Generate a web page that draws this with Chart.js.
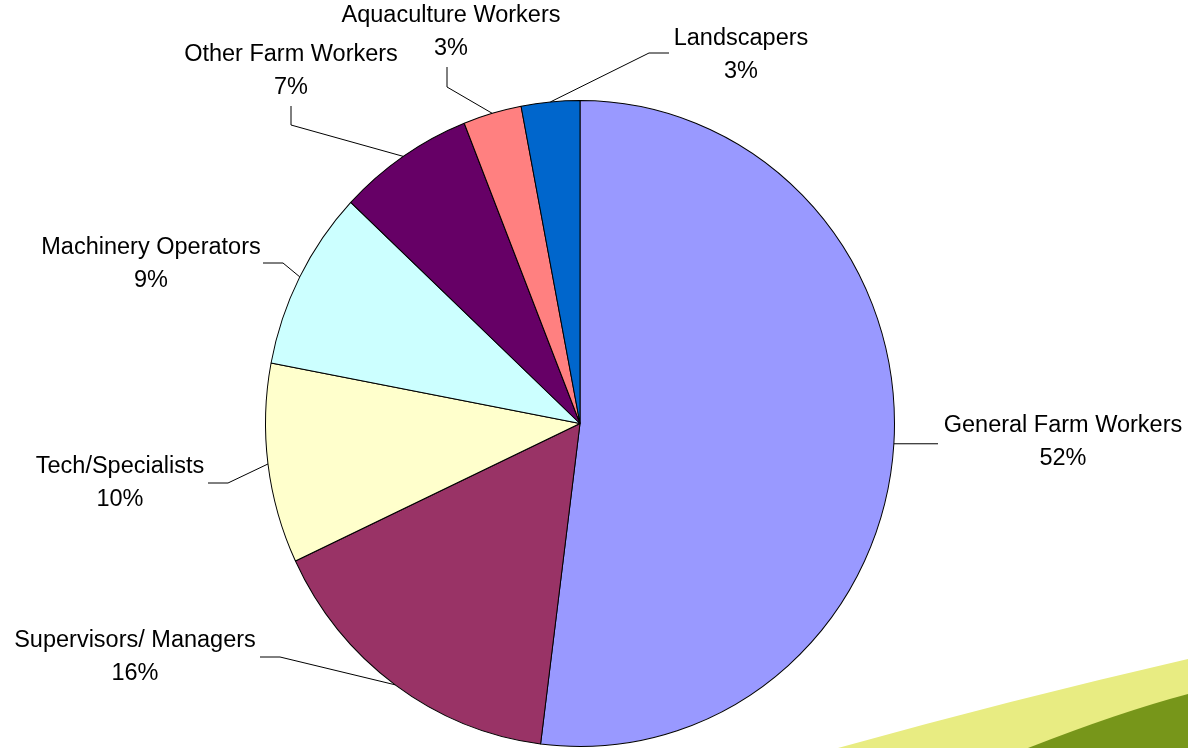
<!DOCTYPE html>
<html>
<head>
<meta charset="utf-8">
<script src="https://cdn.jsdelivr.net/npm/chart.js@4.4.0/dist/chart.umd.min.js"></script>
<style>
  html, body { margin: 0; padding: 0; background: #fff; }
  #chart { display: block; }
</style>
</head>
<body>
<canvas id="chart" width="1188" height="748"></canvas>
<script>
// Data
const categories = [
  "General Farm Workers",
  "Supervisors/ Managers",
  "Tech/Specialists",
  "Machinery Operators",
  "Other Farm Workers",
  "Aquaculture Workers",
  "Landscapers"
];
const shares = [52, 16, 10, 9, 7, 3, 3];
const sliceColors = ["#9999FF", "#993366", "#FFFFCC", "#CCFFFF", "#660066", "#FF8080", "#0066CC"];

// Label placement (layout only): text centre x, first line y, leader path from the slice out to the label
const labelLayout = [
  { x: 1063, y: 426, path: [[938, null]] },
  { x: 135, y: 641, path: [[280, 657], [260, 657]] },
  { x: 120, y: 467, path: [[228, 483], [208, 483]] },
  { x: 151, y: 248, path: [[283, 263], [263, 263]] },
  { x: 291, y: 55, path: [[291, 125], [291, 106]] },
  { x: 451, y: 16, path: [[447, 87], [447, 67]] },
  { x: 741, y: 39, path: [[649, 53], [669, 53]] }
];

// the original pie is a little taller than wide
const stretchY = 1.027;

const stretchPlugin = {
  id: "stretch",
  beforeDatasetsDraw(chart) {
    const a = chart.chartArea;
    const cy = (a.top + a.bottom) / 2;
    chart.ctx.save();
    chart.ctx.translate(0, cy);
    chart.ctx.scale(1, stretchY);
    chart.ctx.translate(0, -cy);
  },
  afterDatasetsDraw(chart) {
    chart.ctx.restore();
  }
};

const swooshPlugin = {
  id: "swoosh",
  beforeDraw(chart) {
    const ctx = chart.ctx;
    const w = chart.width, h = chart.height;
    ctx.save();
    ctx.fillStyle = "#E8EC82";
    ctx.beginPath();
    ctx.moveTo(838, h);
    ctx.quadraticCurveTo(1010, 700, w, 659);
    ctx.lineTo(w, h);
    ctx.closePath();
    ctx.fill();
    ctx.fillStyle = "#77961A";
    ctx.beginPath();
    ctx.moveTo(1028, h);
    ctx.quadraticCurveTo(1120, 712, w, 694);
    ctx.lineTo(w, h);
    ctx.closePath();
    ctx.fill();
    ctx.restore();
  }
};

const labelPlugin = {
  id: "pieLabels",
  afterDraw(chart) {
    const ctx = chart.ctx;
    const total = shares.reduce((a, b) => a + b, 0);
    const arcs = chart.getDatasetMeta(0).data;
    ctx.save();
    ctx.strokeStyle = "#000";
    ctx.lineWidth = 1;
    ctx.fillStyle = "#000";
    ctx.font = "23.5px 'Liberation Sans', Arial, sans-serif";
    ctx.textAlign = "center";
    ctx.textBaseline = "middle";
    arcs.forEach((arc, i) => {
      const p = arc.getProps(["x", "y", "startAngle", "endAngle", "outerRadius"], true);
      const mid = (p.startAngle + p.endAngle) / 2;
      const ax = p.x + Math.cos(mid) * p.outerRadius;
      const ay = p.y + Math.sin(mid) * p.outerRadius * stretchY;
      const lay = labelLayout[i];
      ctx.beginPath();
      ctx.moveTo(ax, ay);
      lay.path.forEach(pt => {
        ctx.lineTo(pt[0], pt[1] === null ? ay : pt[1]);
      });
      ctx.stroke();
      const pct = Math.round(shares[i] / total * 100) + "%";
      ctx.fillText(categories[i], lay.x, lay.y);
      ctx.fillText(pct, lay.x, lay.y + 33);
    });
    ctx.restore();
  }
};

new Chart(document.getElementById("chart"), {
  type: "pie",
  data: {
    labels: categories,
    datasets: [
      {
        data: shares,
        backgroundColor: sliceColors,
        borderColor: "#000",
        borderWidth: 1
      }
    ]
  },
  options: {
    responsive: false,
    animation: false,
    devicePixelRatio: 1,
    layout: { padding: { top: 108.5, bottom: 9.5, left: 0, right: 28 } },
    plugins: {
      legend: { display: false },
      tooltip: { enabled: false }
    }
  },
  plugins: [swooshPlugin, stretchPlugin, labelPlugin]
});
</script>
</body>
</html>
